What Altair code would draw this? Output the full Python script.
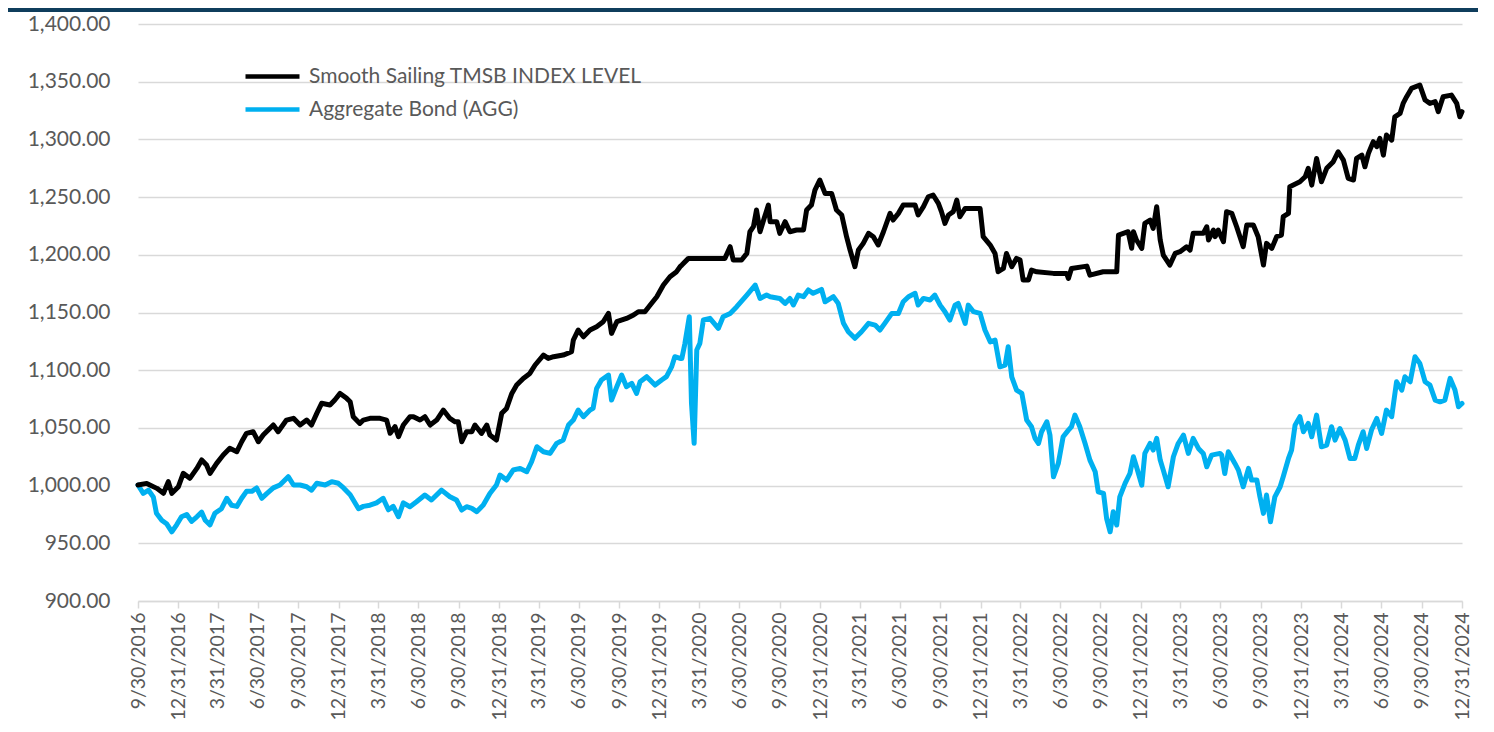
import altair as alt
import pandas as pd

START = "2016-09-30"
END = "2024-12-31"
SERIES = ["Smooth Sailing TMSB INDEX LEVEL", "Aggregate Bond (AGG)"]
COLORS = ["#000000", "#00b0f0"]
Y_TICKS = list(range(900, 1401, 50))

# (days since 2016-09-30, index level)
smooth_sailing = [
    (0, 1000.5), (20, 1001.9), (43, 997.6), (58, 993.3), (69, 1003.4), (77, 993.3), (92, 999.1),
    (103, 1010.6), (118, 1006.3), (134, 1014.9), (145, 1022.2), (156, 1017.8), (164, 1010.6),
    (179, 1019.3), (194, 1026.5), (209, 1032.3), (225, 1029.4), (236, 1038.0), (247, 1045.3),
    (262, 1046.7), (274, 1038.0), (285, 1043.8), (308, 1052.5), (319, 1046.7), (338, 1056.8),
    (354, 1058.3), (369, 1052.5), (384, 1056.8), (395, 1052.5), (407, 1062.6), (418, 1071.3),
    (437, 1069.8), (448, 1074.2), (460, 1079.9), (475, 1075.6), (483, 1072.7), (490, 1059.7),
    (505, 1053.9), (513, 1056.8), (528, 1058.3), (551, 1058.3), (566, 1056.8), (574, 1045.3),
    (585, 1051.1), (593, 1042.4), (604, 1052.5), (619, 1059.7),
    (627, 1059.7), (642, 1056.8), (653, 1059.7), (665, 1052.5), (680, 1056.8), (695, 1065.5),
    (710, 1058.2), (722, 1055.3), (729, 1055.3), (737, 1038.0), (748, 1046.7), (760, 1046.7),
    (767, 1052.5), (782, 1045.2), (794, 1052.5), (801, 1043.8), (816, 1039.5), (828, 1062.6),
    (839, 1066.9), (851, 1079.9), (862, 1087.1), (877, 1092.9), (892, 1097.2), (904, 1104.5),
    (923, 1113.1), (934, 1110.2), (946, 1111.7), (968, 1113.1), (987, 1116.0), (991, 1126.1),
    (1002, 1134.8), (1014, 1129.0), (1029, 1134.8), (1044, 1137.7), (1059, 1142.0), (1071, 1149.2),
    (1078, 1131.9), (1090, 1142.0), (1112, 1144.9), (1128, 1147.8), (1139, 1150.7), (1154, 1150.7),
    (1166, 1156.5), (1181, 1163.7), (1196, 1173.8), (1211, 1181.0), (1226, 1185.4), (1234, 1189.7),
    (1238, 1191.1), (1253, 1196.9), (1287, 1196.9), (1336, 1196.9), (1348, 1207.0), (1355, 1195.5),
    (1374, 1195.5), (1386, 1201.2), (1393, 1220.0), (1401, 1224.4), (1408, 1238.8), (1416, 1220.0),
    (1423, 1228.7), (1435, 1243.1), (1439, 1228.7), (1454, 1228.7), (1461, 1218.6), (1473, 1228.7),
    (1484, 1220.0), (1499, 1221.5), (1515, 1221.5), (1522, 1238.8), (1533, 1243.1), (1541, 1256.1),
    (1552, 1264.8), (1564, 1253.2), (1579, 1253.2), (1590, 1238.8), (1602, 1234.5), (1613, 1215.7),
    (1621, 1204.1), (1632, 1189.7), (1640, 1204.1), (1651, 1209.9), (1663, 1218.6), (1674, 1215.7),
    (1685, 1208.5), (1697, 1220.0), (1712, 1235.9), (1719, 1230.1), (1731, 1235.9), (1742, 1243.1),
    (1769, 1243.1), (1776, 1234.5), (1788, 1241.7), (1799, 1250.3), (1810, 1251.8), (1822, 1244.6),
    (1829, 1237.4),
    (1837, 1227.2), (1845, 1234.5), (1856, 1237.4), (1864, 1247.4), (1871, 1233.0), (1883, 1240.2),
    (1902, 1240.2), (1917, 1240.2), (1924, 1215.7), (1940, 1208.4), (1951, 1201.2), (1958, 1185.3),
    (1970, 1188.2), (1977, 1201.2), (1989, 1189.7), (2000, 1196.9), (2008, 1195.4), (2015, 1178.1),
    (2027, 1178.1), (2034, 1186.8), (2046, 1185.3), (2084, 1183.9), (2114, 1183.9), (2118, 1179.5),
    (2125, 1188.2), (2160, 1190.2), (2167, 1182.4), (2197, 1185.3), (2228, 1185.3), (2232, 1217.1),
    (2243, 1218.6), (2254, 1220.0), (2262, 1205.6), (2266, 1220.0), (2273, 1212.8), (2285, 1205.6),
    (2292, 1227.2), (2304, 1230.1), (2311, 1222.9), (2319, 1241.7), (2327, 1212.8), (2334, 1199.8),
    (2349, 1191.1), (2361, 1201.2), (2372, 1202.7), (2387, 1207.0), (2395, 1204.1), (2402, 1218.6),
    (2425, 1218.6), (2433, 1224.3), (2437, 1212.8), (2448, 1221.4),
    (2452, 1215.7), (2459, 1221.4), (2471, 1211.3), (2478, 1237.3), (2490, 1235.9), (2501, 1224.3),
    (2516, 1207.0), (2524, 1225.8), (2539, 1225.8), (2550, 1215.7), (2562, 1191.1), (2569, 1209.9),
    (2581, 1205.6), (2592, 1215.7), (2603, 1217.1), (2607, 1233.0), (2619, 1235.9), (2622, 1259.0),
    (2645, 1263.3), (2657, 1267.6), (2664, 1274.9), (2672, 1260.4), (2683, 1283.5), (2694, 1263.3),
    (2706, 1274.9), (2721, 1280.7), (2732, 1289.3), (2744, 1282.1), (2755, 1266.2), (2767, 1264.8),
    (2774, 1283.5), (2786, 1286.4), (2793, 1276.3), (2801, 1287.9), (2812, 1298.0), (2820, 1293.7),
    (2827, 1300.9), (2835, 1286.4), (2842, 1303.8), (2854, 1299.4), (2861, 1319.6), (2873, 1322.5),
    (2880, 1331.2), (2888, 1337.0), (2899, 1344.2), (2918, 1347.1), (2930, 1334.1), (2941, 1331.2),
    (2953, 1332.7), (2960, 1324.0), (2971, 1337.0), (2990, 1338.4), (3002, 1331.2), (3009, 1319.6),
    (3014, 1324.0),
]

aggregate_bond = [
    (0, 1000.5), (12, 993.3), (24, 996.0), (35, 990.0), (42, 976.0), (54, 970.0), (65, 967.0),
    (77, 960.0), (88, 966.0), (99, 973.0), (111, 975.0), (122, 969.0), (134, 973.0), (145, 977.0),
    (153, 970.0), (164, 966.0), (175, 976.0), (190, 980.0), (202, 989.0), (213, 983.0), (225, 982.0),
    (236, 989.0), (247, 995.0), (259, 995.0), (270, 998.0), (282, 989.0), (293, 993.0), (308, 998.0),
    (323, 1000.5), (342, 1007.7), (354, 1000.5), (369, 1000.5), (384, 999.0), (395, 996.0),
    (407, 1002.0), (426, 1000.5), (441, 1003.4), (456, 1002.0), (468, 998.0), (483, 992.0),
    (502, 980.0), (513, 982.0), (528, 983.0), (543, 985.0), (558, 989.0), (570, 979.0), (581, 982.0),
    (593, 973.0), (604, 985.0),
    (619, 981.7), (634, 986.0), (653, 991.8), (668, 987.5), (691, 996.1), (710, 990.4), (725, 987.5),
    (737, 978.8), (748, 981.7), (760, 980.3), (771, 977.4), (786, 983.1), (801, 993.2), (816, 1000.5),
    (824, 1009.1), (839, 1004.8), (854, 1013.5), (870, 1014.9), (885, 1012.0), (896, 1020.7),
    (908, 1033.7), (923, 1029.3), (938, 1027.9), (953, 1036.6), (968, 1039.5), (980, 1052.5),
    (991, 1056.8), (1002, 1065.5), (1014, 1059.7), (1029, 1065.5), (1036, 1066.9), (1044, 1084.2),
    (1055, 1091.5), (1071, 1095.8), (1078, 1074.1), (1090, 1085.7), (1101, 1095.8), (1112, 1085.7),
    (1124, 1088.6), (1135, 1079.9), (1143, 1090.0), (1158, 1094.4), (1177, 1087.1), (1192, 1091.5),
    (1203, 1094.4), (1215, 1103.1), (1222, 1111.7), (1234, 1110.2),
    (1238, 1110.2), (1245, 1123.2), (1255, 1146.3), (1260, 1071.2), (1266, 1036.6), (1272, 1117.5),
    (1279, 1123.2), (1287, 1143.5), (1302, 1144.9), (1321, 1136.2), (1332, 1146.3), (1348, 1149.2),
    (1363, 1155.0), (1386, 1165.1), (1405, 1173.8), (1416, 1162.2), (1431, 1165.1), (1439, 1163.7),
    (1461, 1162.2), (1473, 1157.9), (1484, 1162.2), (1492, 1156.5), (1503, 1165.1), (1515, 1163.7),
    (1526, 1169.5), (1537, 1166.6), (1556, 1170.0), (1564, 1159.3), (1583, 1163.7), (1594, 1157.9),
    (1606, 1140.6), (1617, 1133.3), (1632, 1127.6), (1647, 1133.3), (1663, 1140.6), (1678, 1139.1),
    (1689, 1134.8), (1700, 1140.6), (1716, 1149.2), (1731, 1149.2), (1742, 1159.3), (1754, 1163.7),
    (1769, 1166.6), (1776, 1156.5), (1788, 1162.2), (1803, 1160.8), (1814, 1165.1),
    (1826, 1156.4), (1837, 1150.7), (1848, 1143.4), (1860, 1156.4), (1867, 1157.9), (1875, 1149.2),
    (1883, 1140.5), (1890, 1156.4), (1902, 1150.7), (1917, 1149.2), (1928, 1134.8), (1940, 1124.6),
    (1951, 1126.1), (1962, 1103.0), (1974, 1104.4), (1981, 1120.3), (1989, 1094.3), (2000, 1082.8),
    (2012, 1079.9), (2023, 1056.8), (2034, 1051.0), (2042, 1040.9), (2050, 1036.5), (2057, 1046.7),
    (2069, 1055.3), (2076, 1043.8), (2084, 1007.6), (2095, 1019.2), (2106, 1042.3), (2118, 1048.1),
    (2125, 1051.0), (2133, 1061.1), (2144, 1051.0), (2156, 1036.5), (2167, 1022.1), (2179, 1012.0),
    (2186, 994.6), (2198, 993.2), (2205, 971.5), (2213, 960.0), (2220, 977.3), (2228, 965.8),
    (2235, 990.3), (2247, 1001.9), (2258, 1010.5), (2266, 1025.0), (2273, 1016.3), (2285, 1000.4),
    (2292, 1027.9), (2304, 1036.5), (2311, 1030.8), (2319, 1040.9), (2327, 1022.1), (2334, 1013.4),
    (2345, 999.0), (2357, 1025.0), (2368, 1036.5), (2380, 1043.8), (2391, 1027.9), (2402, 1040.9),
    (2414, 1032.2), (2425, 1027.9), (2433, 1016.3), (2444, 1026.4), (2463, 1027.9),
    (2467, 1026.4), (2474, 1010.5), (2482, 1029.3), (2497, 1019.2), (2505, 1013.4), (2516, 999.0),
    (2528, 1014.9), (2535, 1004.8), (2547, 1004.8), (2554, 990.3), (2562, 975.9), (2569, 991.8),
    (2578, 968.6), (2588, 990.3), (2600, 999.0), (2607, 1007.7), (2619, 1023.5), (2626, 1030.8),
    (2634, 1052.4), (2645, 1059.7), (2653, 1046.7), (2664, 1053.9), (2672, 1042.3), (2683, 1061.1),
    (2694, 1033.6), (2706, 1035.1), (2717, 1051.0), (2725, 1039.4), (2736, 1049.5), (2748, 1039.4),
    (2759, 1023.5), (2770, 1023.5), (2778, 1035.1), (2789, 1046.7), (2797, 1032.2), (2808, 1048.1),
    (2820, 1058.2), (2831, 1045.2), (2842, 1065.4), (2854, 1059.7), (2865, 1090.0), (2877, 1082.8),
    (2884, 1094.3), (2896, 1090.0), (2907, 1111.6), (2918, 1105.9), (2930, 1090.0), (2941, 1087.1),
    (2953, 1074.1), (2964, 1072.6), (2975, 1074.1), (2987, 1092.9), (2998, 1082.8), (3006, 1068.3),
    (3014, 1071.2),
]


def frame(pairs, name):
    base = pd.Timestamp(START)
    return pd.DataFrame({
        "date": [(base + pd.Timedelta(days=d)).strftime("%Y-%m-%d") for d, _ in pairs],
        "value": [v for _, v in pairs],
        "series": name,
    })


df = pd.concat([frame(aggregate_bond, SERIES[1]), frame(smooth_sailing, SERIES[0])], ignore_index=True)

quarter_ends = pd.date_range(START, END, freq=pd.offsets.QuarterEnd())
tick_ms = [int(t.value // 10**6) for t in quarter_ends]

FONT = "Lato"
GRID = "#d9d9d9"
TEXT = "#595959"

band = alt.Chart(pd.DataFrame({"k": [0]})).mark_rule(
    color="#0f3d5c", strokeWidth=4
).encode(x=alt.value(-130), x2=alt.value(1348), y=alt.value(-14))

lines = alt.Chart(df).mark_line(
    strokeWidth=5, strokeJoin="round", strokeCap="round"
).encode(
    x=alt.X(
        "date:T",
        scale=alt.Scale(type="utc", domain=[tick_ms[0], tick_ms[-1]], nice=False),
        axis=alt.Axis(
            values=tick_ms,
            labelExpr="utcFormat(datum.value, '%-m/%d/%Y')",
            labelAngle=-90, labelAlign="right", labelBaseline="middle",
            grid=False, tickSize=7, tickColor=GRID, tickWidth=1.5,
            domainColor=GRID, domainWidth=1.5, labelPadding=4,
            labelFontSize=19.5, labelColor=TEXT, labelFont=FONT,
            labelOverlap=False, title=None,
        ),
    ),
    y=alt.Y(
        "value:Q",
        scale=alt.Scale(domain=[900, 1400], nice=False, zero=False),
        axis=alt.Axis(
            values=Y_TICKS, format=",.2f", grid=True, gridColor=GRID, gridWidth=1.5,
            domain=False, ticks=False, labelPadding=28,
            labelFontSize=21, labelColor=TEXT, labelFont=FONT, title=None,
        ),
    ),
    color=alt.Color(
        "series:N",
        scale=alt.Scale(domain=SERIES, range=COLORS),
        legend=alt.Legend(
            title=None, orient="none", legendX=114, legendY=32,
            symbolType="M-1.5,0H1.5", symbolSize=1296, symbolStrokeWidth=4.5,
            labelFontSize=21, labelColor=TEXT, labelFont=FONT, labelOffset=16,
            labelLimit=600, rowPadding=2,
        ),
    ),
)

chart = alt.layer(band, lines).properties(
    width=1324, height=577,
    autosize=alt.AutoSizeParams(type="none"),
    padding={"left": 130, "top": 16, "right": 16, "bottom": 119},
    background="white",
).configure_view(stroke=None)

chart.save("out.html", embed_options={"renderer": "svg", "actions": False})
